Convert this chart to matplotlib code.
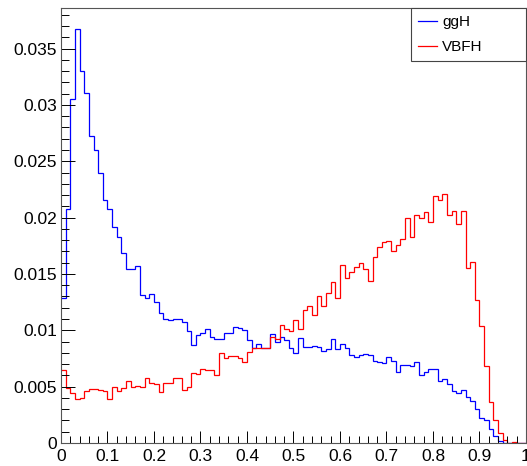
import numpy as np
import matplotlib
matplotlib.use('Agg')
import matplotlib.pyplot as plt
from matplotlib.ticker import MultipleLocator, FuncFormatter

plt.rcParams['font.family'] = ['Liberation Sans', 'DejaVu Sans']

# 100 bins on [0, 1], normalised histograms
bin_edges = np.linspace(0.0, 1.0, 101)

ggH = [
    0.0129, 0.0208, 0.0305, 0.0367, 0.0330, 0.0311, 0.0272, 0.0260, 0.0240, 0.0216,
    0.0208, 0.0192, 0.0183, 0.0169, 0.0154, 0.0154, 0.0157, 0.0131, 0.0129, 0.0132,
    0.0125, 0.0115, 0.0110, 0.0109, 0.0110, 0.0110, 0.0107, 0.0099, 0.0087, 0.0096,
    0.0098, 0.0101, 0.0094, 0.0092, 0.0092, 0.0098, 0.0098, 0.0103, 0.0102, 0.0100,
    0.0091, 0.0084, 0.0088, 0.0084, 0.0084, 0.0097, 0.0090, 0.0094, 0.0091, 0.0084,
    0.0080, 0.0093, 0.0085, 0.0085, 0.0086, 0.0085, 0.0082, 0.0083, 0.0092, 0.0083,
    0.0088, 0.0084, 0.0078, 0.0076, 0.0078, 0.0079, 0.0078, 0.0073, 0.0072, 0.0071,
    0.0076, 0.0073, 0.0063, 0.0069, 0.0069, 0.0068, 0.0072, 0.0060, 0.0063, 0.0066,
    0.0066, 0.0055, 0.0057, 0.0052, 0.0046, 0.0044, 0.0047, 0.0041, 0.0037, 0.0030,
    0.0022, 0.0020, 0.0012, 0.0006, 0.0002, 0.0, 0.0, 0.0, 0.0, 0.0,
]

VBFH = [
    0.0065, 0.0049, 0.0044, 0.0039, 0.0040, 0.0046, 0.0048, 0.0048, 0.0047, 0.0046,
    0.0039, 0.0050, 0.0046, 0.0049, 0.0055, 0.0050, 0.0051, 0.0050, 0.0058, 0.0053,
    0.0052, 0.0045, 0.0053, 0.0053, 0.0058, 0.0058, 0.0047, 0.0050, 0.0062, 0.0061,
    0.0066, 0.0065, 0.0065, 0.0060, 0.0080, 0.0075, 0.0077, 0.0077, 0.0075, 0.0072,
    0.0081, 0.0084, 0.0084, 0.0084, 0.0084, 0.0094, 0.0092, 0.0105, 0.0101, 0.0099,
    0.0109, 0.0101, 0.0118, 0.0122, 0.0114, 0.0130, 0.0122, 0.0133, 0.0143, 0.0129,
    0.0158, 0.0146, 0.0152, 0.0156, 0.0160, 0.0154, 0.0144, 0.0165, 0.0174, 0.0178,
    0.0179, 0.0170, 0.0176, 0.0181, 0.0200, 0.0183, 0.0202, 0.0200, 0.0205, 0.0196,
    0.0219, 0.0216, 0.0221, 0.0202, 0.0206, 0.0194, 0.0206, 0.0155, 0.0161, 0.0127,
    0.0104, 0.0068, 0.0036, 0.0020, 0.0009, 0.0003, 0.0, 0.00005, 0.00003, 0.0,
]

fig = plt.figure(figsize=(5.27, 4.66), dpi=100)
ax = fig.add_axes([0.1157, 0.0494, 0.8824, 0.9334])

# no closing verticals at the ends (the left one would sit on the axis)
ax.stairs(ggH, bin_edges, baseline=None, color='#0000ff', linewidth=0.9, label='ggH')
ax.stairs(VBFH, bin_edges, baseline=None, color='#ff0000', linewidth=0.9, label='VBFH')

ax.set_xlim(0, 1)
ax.set_ylim(0, 0.0386)

ax.xaxis.set_major_locator(MultipleLocator(0.1))
ax.xaxis.set_minor_locator(MultipleLocator(0.02))
ax.yaxis.set_major_locator(MultipleLocator(0.005))
ax.yaxis.set_minor_locator(MultipleLocator(0.001))
fmt = FuncFormatter(lambda v, p: '%g' % round(v, 4))
ax.xaxis.set_major_formatter(fmt)
ax.yaxis.set_major_formatter(fmt)

ax.tick_params(axis='both', which='both', direction='in', top=False, right=False,
               width=0.7, labelsize=12.5)
ax.tick_params(axis='y', which='major', length=10, pad=3)
ax.tick_params(axis='y', which='minor', length=5.5)
ax.tick_params(axis='x', which='major', length=8.5, pad=4)
ax.tick_params(axis='x', which='minor', length=5)
for sp in ax.spines.values():
    sp.set_linewidth(0.8)
    sp.set_color('#555555')
    sp.set_zorder(3)

leg = ax.legend(loc='upper left', bbox_to_anchor=(0.7527, 0.8736, 0.2473, 0.1264),
                mode='expand', borderaxespad=0, fancybox=False, framealpha=1,
                edgecolor='#444444', fontsize=11, handlelength=1.25,
                handletextpad=0.35, labelspacing=0.75, borderpad=0.45)
leg.get_frame().set_linewidth(0.8)

fig.savefig('out.png', dpi=100)
